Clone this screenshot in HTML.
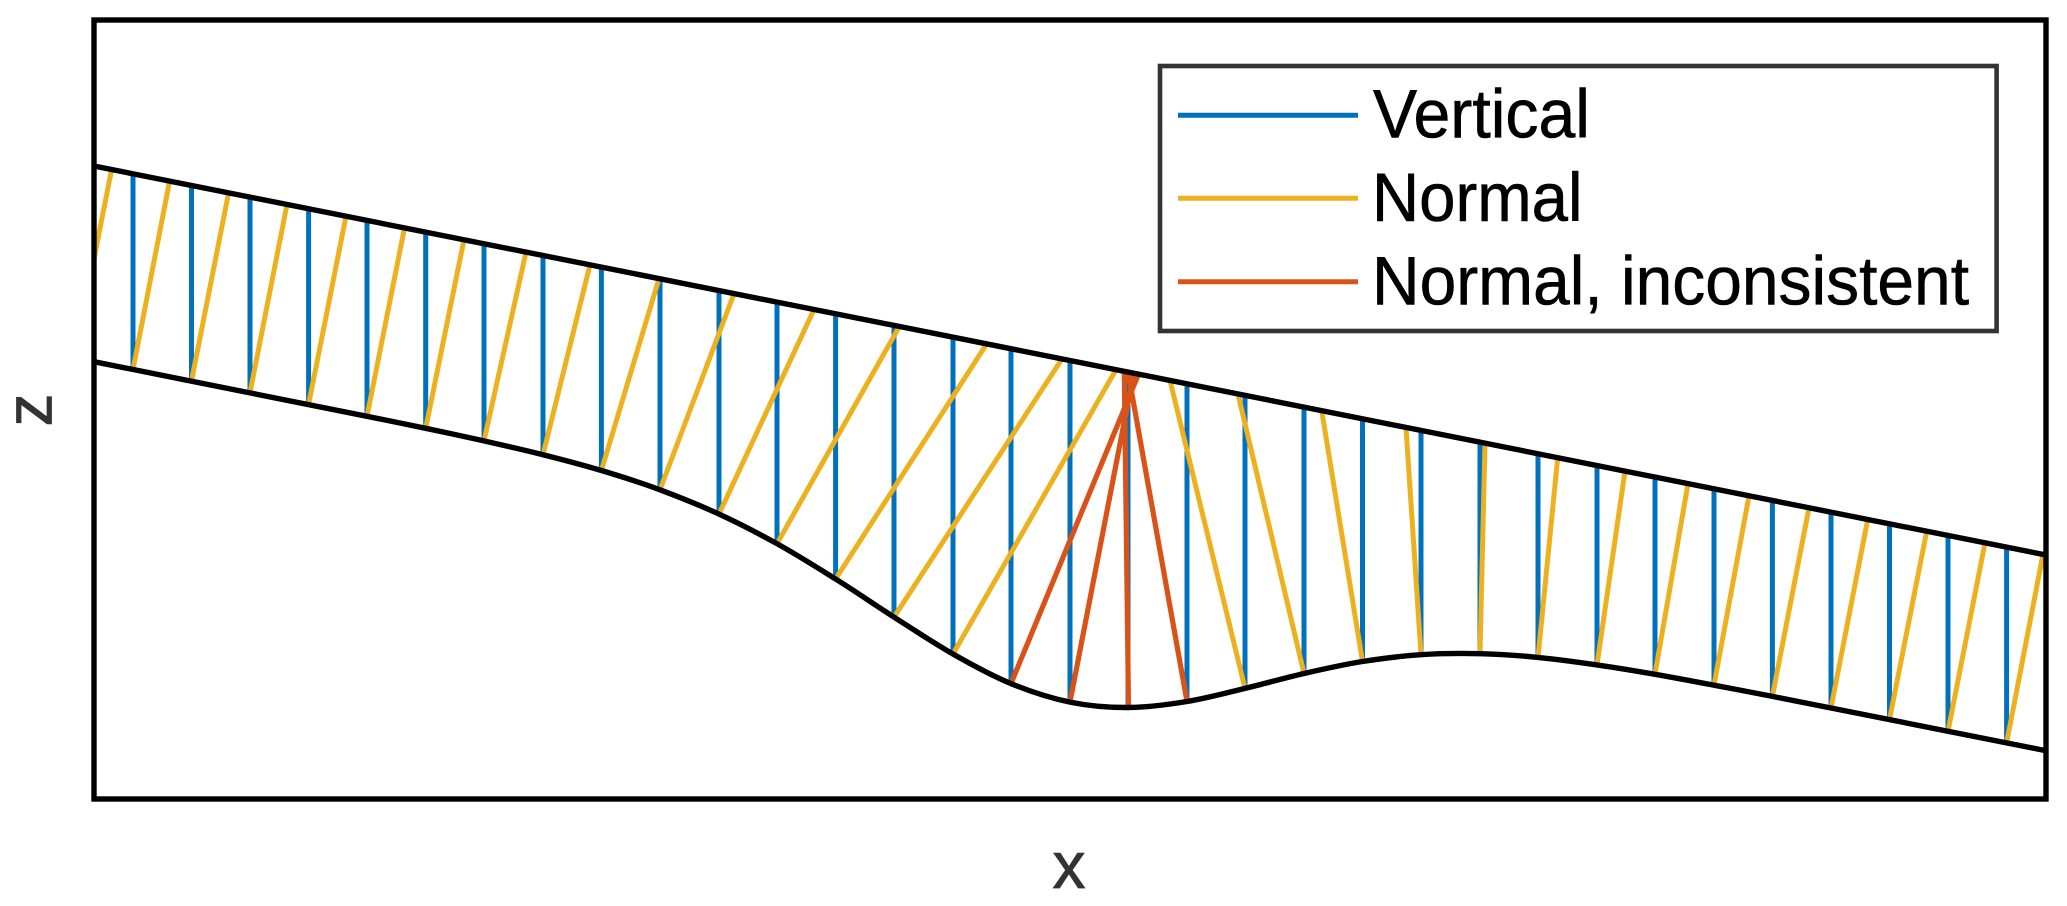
<!DOCTYPE html>
<html>
<head>
<meta charset="utf-8">
<style>
html,body{margin:0;padding:0;background:#fff;width:2067px;height:906px;overflow:hidden}
svg{display:block}
text{font-family:"Liberation Sans",Arial,sans-serif}
</style>
</head>
<body>
<svg width="2067" height="906" viewBox="0 0 2067 906" xmlns="http://www.w3.org/2000/svg">
<defs><clipPath id="c"><rect x="94" y="20" width="1952" height="779"/></clipPath></defs>
<rect width="2067" height="906" fill="#fff"/>
<g clip-path="url(#c)" fill="none">
<path stroke="#0072BD" stroke-width="5" d="M133 173.8V369.5M191.5 185.4V381M250 197.1V392.7M308.6 208.8V404.4M367 220.4V416.3M425.7 232.1V428.3M484 243.7V440.9M543 255.5V454.7M601.4 267.1V470.5M660 278.8V489.8M719 290.6V514.1M777 302.1V543.7M835.6 313.8V579M894 325.4V617.1M953 337.2V654M1011 348.8V683.6M1070 360.5V702.1M1128 372.1V707.5M1187 383.8V701.5M1245 395.4V688.4M1304 407.2V673.5M1362.5 418.8V661.5M1421 430.5V654.7M1480 442.2V653.7M1538 453.8V657.4M1597 465.5V664.9M1655 477.1V674.3M1714 488.9V685.2M1772.4 500.5V696.4M1831 512.2V708M1889.5 523.8V719.7M1948 535.5V731.4M2006.6 547.2V743"/>
<path stroke="#EDB120" stroke-width="5" d="M74.5 357.8L111.6 169.5M133 369.5L169.6 181.1M191.5 381L228.6 192.8M250 392.7L287 204.5M308.6 404.4L346 216.2M367 416.3L404.5 227.9M425.7 428.3L464 239.7M484 440.9L526 252.1M543 454.7L590 264.9M601.4 470.5L659 278.6M660 489.8L734 293.6M719 514.1L814 309.5M777 543.7L899.3 326.5M835.6 579L986.7 343.9M894 617.1L1062 358.9M953 654L1116 369.7M1245 688.4L1170 380.4M1304 673.5L1238 394M1362.5 661.5L1321.7 410.7M1421 654.7L1406 427.5M1480 653.7L1485 443.2M1538 657.4L1557.7 457.7M1597 664.9L1625 471.1M1655 674.3L1688 483.7M1714 685.2L1749 495.8M1772.4 696.4L1809 507.8M1831 708L1867.7 519.5M1889.5 719.7L1926.7 531.3M1948 731.4L1985 542.9M2006.6 743L2043 554.4"/>
<path stroke="#D95319" stroke-width="5.2" d="M1011 683.6L1138.5 374.2M1070 702.1L1133.7 373.2M1128.5 707.5L1124.3 371.3M1187 701.5L1128 372.1"/>
<path stroke="#000" stroke-width="5.4" d="M94 166L2046 555"/>
<path stroke="#000" stroke-width="5.4" d="M94 361.7L367 416.3C386.5 420.2 406.2 424.2 425.7 428.3S464.5 436.5 484 440.9S523.5 449.8 543 454.7S581.9 464.65 601.4 470.5S640.5 482.5 660 489.8S699.5 505.1 719 514.1S757.5 532.9 777 543.7S816 566.8 835.6 579S874.5 604.6 894 617.1S933.5 642.9 953 654S991.5 675.6 1011 683.6S1050.5 698.1 1070 702.1S1108.5 707.6 1128 707.5S1167.5 704.7 1187 701.5S1225.5 693.1 1245 688.4S1284.5 678 1304 673.5S1343 664.6 1362.5 661.5S1401.5 656 1421 654.7S1460.5 653.25 1480 653.7S1518.5 655.5 1538 657.4S1577.5 662.1 1597 664.9S1635.5 670.9 1655 674.3S1694.5 681.5 1714 685.2S1752.9 692.6 1772.4 696.4L2046 750.7"/>
</g>
<rect x="94" y="20" width="1952" height="779" fill="none" stroke="#000" stroke-width="5.4"/>
<rect x="1160" y="66" width="836.6" height="265" fill="#fff" stroke="#333" stroke-width="4.6"/>
<path d="M1178 115.3H1358" stroke="#0072BD" stroke-width="5" fill="none"/>
<path d="M1178 198.3H1358" stroke="#EDB120" stroke-width="5" fill="none"/>
<path d="M1178 281.7H1358" stroke="#D95319" stroke-width="5" fill="none"/>
<g stroke="#000" stroke-width="0.6" fill="#000">
<text x="1373" y="137.7" font-size="69" textLength="217" lengthAdjust="spacingAndGlyphs">Vertical</text>
<text x="1372" y="221" font-size="69" textLength="210.5" lengthAdjust="spacingAndGlyphs">Normal</text>
<text x="1372" y="304.3" font-size="69" textLength="597" lengthAdjust="spacingAndGlyphs">Normal, inconsistent</text>
</g>
<text x="1069" y="888" font-size="66" fill="#333" stroke="#333" stroke-width="0.8" text-anchor="middle">x</text>
<text transform="translate(51.5 410) rotate(-90)" font-size="66" fill="#333" stroke="#333" stroke-width="0.8" text-anchor="middle">z</text>
</svg>
</body>
</html>
